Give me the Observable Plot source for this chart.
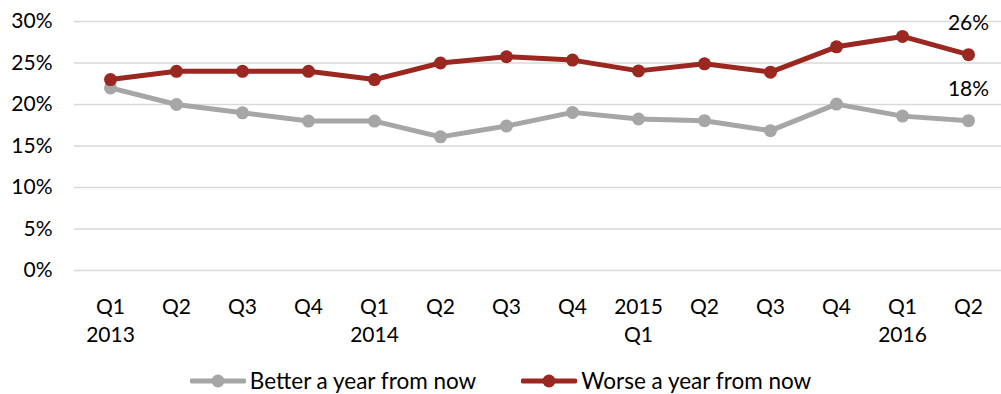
<!DOCTYPE html>
<html>
<head>
<meta charset="utf-8">
<script src="https://cdn.jsdelivr.net/npm/d3@7"></script>
<script src="https://cdn.jsdelivr.net/npm/@observablehq/plot@0.6"></script>
<style>
  html, body { margin: 0; padding: 0; background: #fff; }
  body { width: 1001px; height: 394px; overflow: hidden; font-family: Lato, "Open Sans", sans-serif; }
  #chart { height: 345px; }
  #legend { display: flex; justify-content: center; align-items: center; height: 30px; line-height: 30px; margin-top: 21px; font-size: 22.5px; color: #000; }
  .item { display: flex; align-items: center; }
  .item svg { margin-right: 4px; }
  .gap { width: 45px; }
</style>
</head>
<body>
<div id="chart"></div>
<div id="legend"></div>
<script>
const quarters = ["2013Q1","2013Q2","2013Q3","2013Q4","2014Q1","2014Q2","2014Q3","2014Q4","2015Q1","2015Q2","2015Q3","2015Q4","2016Q1","2016Q2"];
const tickLabels = ["Q1\n2013","Q2","Q3","Q4","Q1\n2014","Q2","Q3","Q4","2015\nQ1","Q2","Q3","Q4","Q1\n2016","Q2"];
const better = [22, 20, 19, 18, 18, 16.1, 17.4, 19.05, 18.25, 18.05, 16.85, 20.05, 18.6, 18.05];
const worse  = [23, 24, 24, 24, 23, 25, 25.75, 25.35, 24.05, 24.9, 23.9, 26.95, 28.2, 26];
const seriesNames = ["Better a year from now", "Worse a year from now"];
const colors = ["#a6a6a6", "#9a2720"];
const yTicks = [0, 5, 10, 15, 20, 25, 30];

const betterData = quarters.map((q, i) => ({q, v: better[i]}));
const worseData = quarters.map((q, i) => ({q, v: worse[i]}));
const lastLabels = [betterData[betterData.length - 1], worseData[worseData.length - 1]];

const chart = Plot.plot({
  width: 1001,
  height: 345,
  marginLeft: 74,
  marginRight: 0,
  marginTop: 21,
  marginBottom: 75,
  style: {fontFamily: "Lato, 'Open Sans', sans-serif", fontSize: "21px", color: "#000", background: "#fff"},
  x: {type: "point", domain: quarters, padding: 0.5, range: [73.8, 1003.2]},
  y: {domain: [0, 30]},
  marks: [
    Plot.ruleY(yTicks, {stroke: "#d9d9d9", strokeWidth: 1.5}),
    Plot.line(betterData, {x: "q", y: "v", stroke: colors[0], strokeWidth: 5, strokeLinejoin: "round"}),
    Plot.dot(betterData, {x: "q", y: "v", r: 6.5, fill: colors[0], stroke: "none"}),
    Plot.line(worseData, {x: "q", y: "v", stroke: colors[1], strokeWidth: 5, strokeLinejoin: "round"}),
    Plot.dot(worseData, {x: "q", y: "v", r: 6.5, fill: colors[1], stroke: "none"}),
    Plot.text(lastLabels, {x: "q", y: "v", text: d => Math.round(d.v) + "%", dy: -31, fill: "#000", fontSize: 21}),
    Plot.axisX({tickSize: 0, tickPadding: 24, lineHeight: 1.33, tickFormat: d => tickLabels[quarters.indexOf(d)], label: null}),
    Plot.axisY({ticks: yTicks, tickSize: 0, tickPadding: 22, tickFormat: d => d + "%", label: null})
  ]
});
chart.style.display = "block";
document.getElementById("chart").appendChild(chart);

const legend = document.getElementById("legend");
seriesNames.forEach((name, i) => {
  if (i > 0) { const g = document.createElement("div"); g.className = "gap"; legend.appendChild(g); }
  const item = document.createElement("div");
  item.className = "item";
  item.innerHTML = `<svg width="56" height="16"><line x1="2" x2="54" y1="8" y2="8" stroke="${colors[i]}" stroke-width="5" stroke-linecap="round"/><circle cx="28" cy="8" r="6.5" fill="${colors[i]}"/></svg><span>${name}</span>`;
  legend.appendChild(item);
});
</script>
</body>
</html>
